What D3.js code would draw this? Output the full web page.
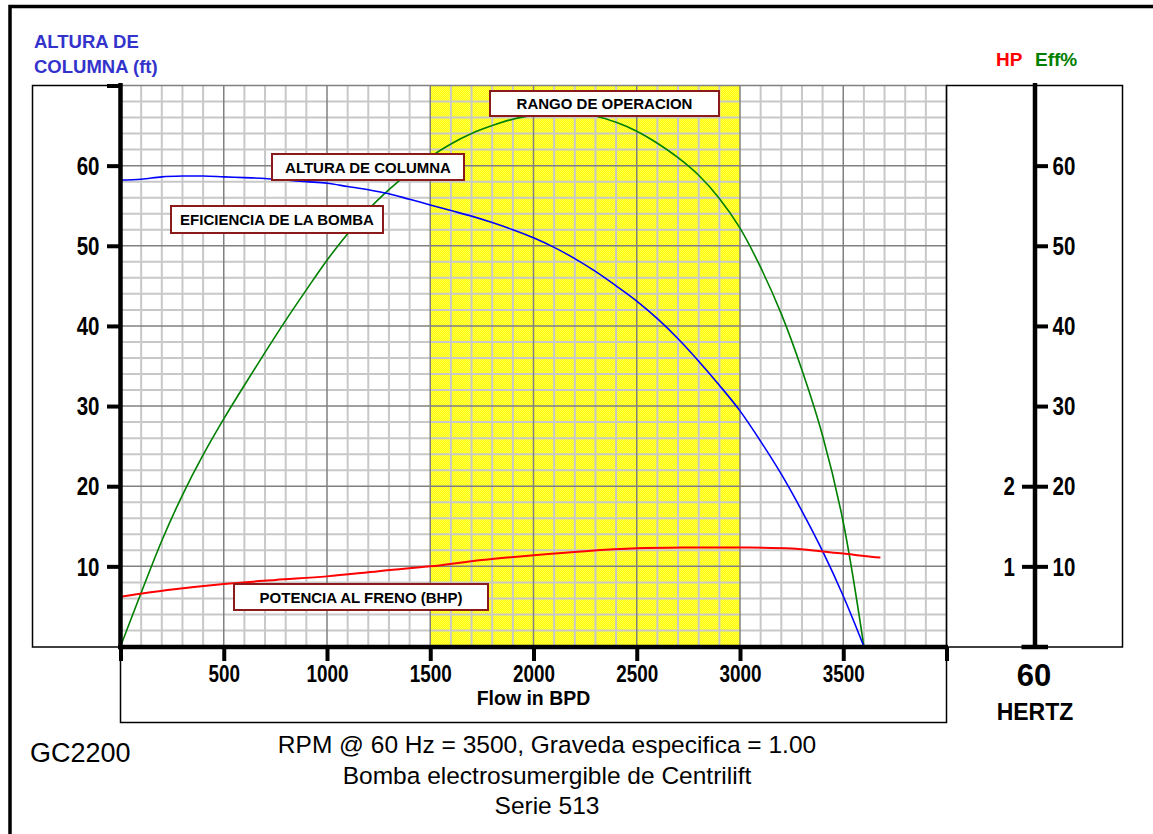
<!DOCTYPE html>
<html><head><meta charset="utf-8">
<script src="https://cdn.jsdelivr.net/npm/d3@7"></script>
<style>body{margin:0;background:#fff}svg{display:block}text{font-family:"Liberation Sans",Arial,sans-serif}</style>
</head><body>
<script>
// ---- data ----
const flows = [0,100,200,300,400,500,600,700,800,900,1000,1100,1200,1300,1400,1500,1600,1700,1800,1900,2000,2100,2200,2300,2400,2500,2600,2700,2800,2900,3000,3100,3200,3300,3400,3500,3600];
const headFt = [58.2,58.3,58.6,58.7,58.7,58.6,58.5,58.4,58.2,58.0,57.8,57.4,57.0,56.5,55.8,55.1,54.4,53.7,52.9,52.0,51.0,49.8,48.4,46.8,45.0,43.1,40.9,38.4,35.6,32.6,29.4,25.6,21.5,16.9,11.9,6.3,0];
const effPct = [0,6.7,13.2,18.9,23.9,28.4,32.6,36.7,40.7,44.5,48.2,51.5,54.5,57.0,59.2,61.1,62.7,64.0,65.0,65.8,66.3,66.6,66.6,66.2,65.4,64.3,62.8,61.0,58.8,55.9,52.2,47.3,41.5,34.5,26.3,15.5,0];
const hpFlows = [0,250,500,750,1000,1250,1500,1750,2000,2250,2500,2750,3000,3250,3400,3500,3600,3680];
const hpVals = [0.62,0.71,0.78,0.83,0.875,0.94,1.0,1.08,1.14,1.19,1.225,1.235,1.235,1.222,1.185,1.16,1.13,1.11];
const xTicks = [500,1000,1500,2000,2500,3000,3500];
const headTicks = [10,20,30,40,50,60];
const effTicks = [10,20,30,40,50,60];
const hpTicks = [1,2];
const opRange = [1500,3000];

const W=1153,H=834;
const svg=d3.select("body").append("svg").attr("width",W).attr("height",H);

const x=d3.scaleLinear().domain([0,4000]).range([120.5,946.5]);
const y=d3.scaleLinear().domain([0,70]).range([646.5,85.5]);
const yHP=d3.scaleLinear().domain([0,7]).range([646.5,85.5]);

// outer frame
svg.append("rect").attr("x",10).attr("y",6.5).attr("width",1300).attr("height",1000)
  .attr("fill","none").attr("stroke","#000").attr("stroke-width",3.5);

// pattern for operating range
const defs=svg.append("defs");
const pat=defs.append("pattern").attr("id","dither").attr("width",2).attr("height",2).attr("patternUnits","userSpaceOnUse");
pat.append("rect").attr("width",2).attr("height",2).attr("fill","#ffff00");
pat.append("rect").attr("x",0).attr("y",0).attr("width",1).attr("height",1).attr("fill","#ffff50");
pat.append("rect").attr("x",1).attr("y",1).attr("width",1).attr("height",1).attr("fill","#ffff50");

svg.append("rect").attr("x",x(opRange[0])).attr("y",y(70)).attr("width",x(opRange[1])-x(opRange[0]))
  .attr("height",y(0)-y(70)).attr("fill","url(#dither)");

// grid
const g=svg.append("g");
const minorX=d3.range(100,4000,100).filter(v=>v%500!==0);
const majorX=d3.range(500,4001,500);
const minorY=d3.range(2,70,2).filter(v=>v%10!==0);
const majorY=d3.range(10,71,10);
g.selectAll(".mx").data(minorX).join("line").attr("x1",d=>x(d)).attr("x2",d=>x(d)).attr("y1",y(0)).attr("y2",y(70)).attr("stroke","#c8c8c8").attr("stroke-width",2);
g.selectAll(".my").data(minorY).join("line").attr("y1",d=>y(d)).attr("y2",d=>y(d)).attr("x1",x(0)).attr("x2",x(4000)).attr("stroke","#c8c8c8").attr("stroke-width",2);
g.selectAll(".Mx").data(majorX).join("line").attr("x1",d=>x(d)).attr("x2",d=>x(d)).attr("y1",y(0)).attr("y2",y(70)).attr("stroke","#808080").attr("stroke-width",1.5);
g.selectAll(".My").data(majorY).join("line").attr("y1",d=>y(d)).attr("y2",d=>y(d)).attr("x1",x(0)).attr("x2",x(4000)).attr("stroke","#808080").attr("stroke-width",1.5);

// boxes
const box=(x0,y0,x1,y1)=>svg.append("rect").attr("x",x0).attr("y",y0).attr("width",x1-x0).attr("height",y1-y0).attr("fill","none").attr("stroke","#000").attr("stroke-width",1.5);
box(32.5,85.5,120.5,647);
box(946.5,85.5,1122.5,647);
box(120.5,647,946.5,722.5);

// curves
const curve=d3.curveCatmullRom.alpha(0.5);
const lineH=d3.line().x((d,i)=>x(flows[i])).y(d=>y(d)).curve(curve);
svg.append("path").attr("d",lineH(effPct)).attr("fill","none").attr("stroke","#008000").attr("stroke-width",1.6);
svg.append("path").attr("d",lineH(headFt)).attr("fill","none").attr("stroke","#0000ff").attr("stroke-width",1.6);
const lineP=d3.line().x((d,i)=>x(hpFlows[i])).y(d=>yHP(d)).curve(curve);
svg.append("path").attr("d",lineP(hpVals)).attr("fill","none").attr("stroke","#ff0000").attr("stroke-width",2);

// label boxes
const labels=[
 {t:"RANGO DE OPERACION",x0:490,y0:91,x1:719,y1:116},
 {t:"ALTURA DE COLUMNA",x0:272,y0:154,x1:464,y1:180},
 {t:"EFICIENCIA DE LA BOMBA",x0:171,y0:206,x1:383,y1:233},
 {t:"POTENCIA AL FRENO (BHP)",x0:234,y0:584,x1:488,y1:610}
];
labels.forEach(l=>{
  svg.append("rect").attr("x",l.x0).attr("y",l.y0).attr("width",l.x1-l.x0).attr("height",l.y1-l.y0)
    .attr("fill","#fff").attr("stroke","#8b1a1a").attr("stroke-width",2);
  svg.append("text").attr("x",(l.x0+l.x1)/2).attr("y",(l.y0+l.y1)/2+5.5).attr("text-anchor","middle")
    .attr("font-size",15).attr("font-weight","bold").attr("fill","#000").text(l.t);
});

// axes
const SX=0.82;
function styleAxis(sel,fs,anchor,tx,dy){
  sel.select(".domain").remove();
  sel.selectAll(".tick line").attr("stroke","#000").attr("stroke-width",4);
  sel.selectAll(".tick text").attr("font-family","'Liberation Sans',Arial,sans-serif").attr("font-weight","bold")
    .attr("font-size",fs).attr("fill","#000").attr("text-anchor",anchor)
    .attr("x",tx/SX).attr("dy",dy).attr("transform",`scale(${SX},1)`);
}
const axL=svg.append("g").attr("transform",`translate(${x(0)},0)`)
  .call(d3.axisLeft(y).tickValues(headTicks.concat([70])).tickSize(13.5).tickFormat(d=>d===70?"":d));
styleAxis(axL,25,"end",-21,"0.35em");

const axR=svg.append("g").attr("transform","translate(1035,0)")
  .call(d3.axisRight(y).tickValues(effTicks).tickSize(13).tickFormat(d=>d));
styleAxis(axR,25,"start",17.5,"0.35em");
const axHP=svg.append("g").attr("transform","translate(1035,0)")
  .call(d3.axisLeft(yHP).tickValues(hpTicks).tickSize(13).tickFormat(d=>d));
styleAxis(axHP,25,"end",-20,"0.35em");

const axB=svg.append("g").attr("transform",`translate(0,647)`)
  .call(d3.axisBottom(x).tickValues([0].concat(xTicks,[4000])).tickSize(14).tickFormat(d=>(d===0||d===4000)?"":d));
axB.select(".domain").remove();
axB.selectAll(".tick line").attr("stroke","#000").attr("stroke-width",4);
axB.selectAll(".tick text").attr("font-weight","bold").attr("font-size",23).attr("fill","#000")
  .attr("y",0).attr("dy",0).attr("transform",`translate(0,35) scale(${SX},1)`);

// axis lines
svg.append("line").attr("x1",x(0)).attr("x2",x(0)).attr("y1",83).attr("y2",649).attr("stroke","#000").attr("stroke-width",4.5);
svg.append("line").attr("x1",118).attr("x2",x(4000)+1.5).attr("y1",647).attr("y2",647).attr("stroke","#000").attr("stroke-width",4.5);
svg.append("line").attr("x1",1035).attr("x2",1035).attr("y1",83).attr("y2",647).attr("stroke","#000").attr("stroke-width",4.5);
svg.append("line").attr("x1",1021.5).attr("x2",1048).attr("y1",647).attr("y2",647).attr("stroke","#000").attr("stroke-width",4.5);

// titles
svg.append("text").attr("x",x(2000)).attr("y",705).attr("text-anchor","middle").attr("font-weight","bold")
  .attr("font-size",20.5).attr("transform",`translate(${x(2000)*(1-0.95)},0) scale(0.95,1)`).text("Flow in BPD");
svg.append("text").attr("x",34).attr("y",48).attr("font-weight","bold").attr("font-size",18.5).attr("fill","#3333cc").text("ALTURA DE");
svg.append("text").attr("x",34).attr("y",73).attr("font-weight","bold").attr("font-size",18.5).attr("fill","#3333cc").text("COLUMNA (ft)");
svg.append("text").attr("x",996).attr("y",66).attr("font-weight","bold").attr("font-size",19).attr("fill","#ff0000").text("HP");
svg.append("text").attr("x",1035).attr("y",66).attr("font-weight","bold").attr("font-size",19).attr("fill","#008000").text("Eff%");
svg.append("text").attr("x",1034).attr("y",686).attr("text-anchor","middle").attr("font-weight","bold").attr("font-size",31).text("60");
svg.append("text").attr("x",1035).attr("y",720).attr("text-anchor","middle").attr("font-weight","bold").attr("font-size",23).text("HERTZ");
svg.append("text").attr("x",30).attr("y",762).attr("font-size",27).text("GC2200");
const bt=["RPM @ 60 Hz = 3500, Graveda especifica = 1.00","Bomba electrosumergible de Centrilift","Serie 513"];
bt.forEach((t,i)=>svg.append("text").attr("x",547).attr("y",753+i*30.5).attr("text-anchor","middle").attr("font-size",24.5).text(t));
</script>
</body></html>
